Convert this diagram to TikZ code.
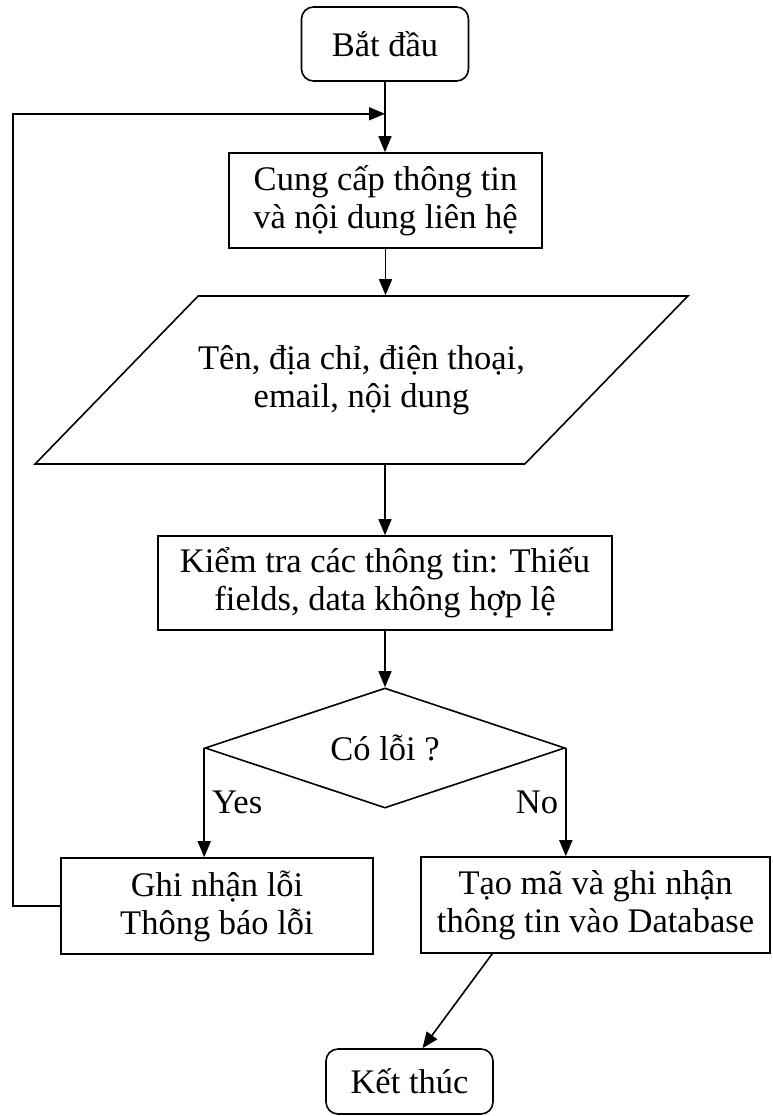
\documentclass[tikz,border=0pt]{standalone}
\usepackage{fontspec}
\setmainfont{Liberation Serif}
\usetikzlibrary{shapes.geometric,arrows.meta,calc}

\tikzset{
  box/.style={draw=black,line width=1.6pt,fill=white,align=center,inner sep=0pt},
  term/.style={box,rounded corners=12pt},
  flow/.style={line width=1.6pt,-{Triangle[length=16pt,width=13pt]}},
  tag/.style={inner sep=7pt,pos=0.5}
}

\begin{document}
\begin{tikzpicture}[x=1pt,y=-1pt,font=\fontsize{34.5}{38}\selectfont]
  \useasboundingbox (0,0) rectangle (772,1116);
  \node[term,minimum width=167pt,minimum height=74pt] (start) at (385,44) {Bắt đầu};
  \node[box,minimum width=313pt,minimum height=95pt] (cung) at (385.5,200.5)
    {Cung cấp thông tin\\và nội dung liên hệ};
  \node[box,trapezium,trapezium left angle=44,trapezium right angle=136,
    trapezium stretches body,inner ysep=44pt,minimum width=649pt,minimum height=168pt]
    (data) at (361.5,380)
    {Tên, địa chỉ, điện thoại,\\email, nội dung};
  \node[box,minimum width=454pt,minimum height=94pt] (kiem) at (385,583)
    {Kiểm tra các thông tin: Thiếu\\fields, data không hợp lệ};
  \node[box,diamond,aspect=3,minimum width=360pt,minimum height=120pt] (check) at (385,748)
    {Có lỗi ?};
  \node[box,minimum width=312pt,minimum height=96pt] (ghi) at (217,906)
    {Ghi nhận lỗi\\Thông báo lỗi};
  \node[box,minimum width=349pt,minimum height=96pt] (tao) at (595.5,905)
    {Tạo mã và ghi nhận\\thông tin vào Database};
  \node[term,minimum width=167pt,minimum height=65pt] (stop) at (409.5,1081.5) {Kết thúc};

  \coordinate (merge) at ($(start.south)+(0,32)$);

  \draw[flow] (start.south) -- (start.south |- cung.north);
  \draw[flow] (cung.south) -- (cung.south |- data.north);
  \draw[flow] (kiem.north |- data.south) -- (kiem.north);
  \draw[flow] (kiem.south) -- (kiem.south |- check.north);
  \draw[flow] (check.west) -- node[tag,anchor=west] {Yes} (check.west |- ghi.north);
  \draw[flow] (check.east) -- node[tag,anchor=east] {No} (check.east |- tao.north);
  \draw[flow] (ghi.west) -- ++(-47,0) |- (merge);
  \draw[flow] ($(tao.south west)+(72,0)$) -- ($(stop.north)+(13,0)$);
\end{tikzpicture}
\end{document}
